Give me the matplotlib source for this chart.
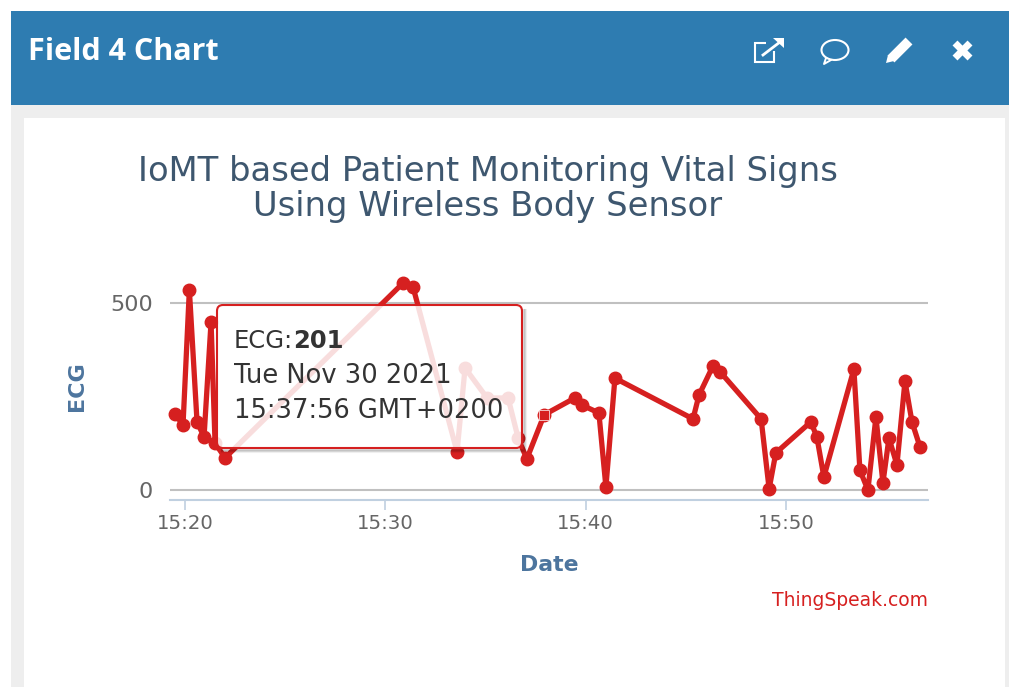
"""
ThingSpeak Field 4 chart widget with ECG readings
"""
from matplotlib import pyplot as plt
from matplotlib import dates as mdates
from matplotlib.patches import Rectangle, FancyBboxPatch, Ellipse, Polygon
import pandas as pd

DAY = '2021-11-30 '

times = ['15:19:30', '15:19:54', '15:20:13', '15:20:36', '15:20:57', '15:21:18',
         '15:21:30', '15:22:00', '15:30:53', '15:31:23', '15:33:35', '15:33:59',
         '15:35:05', '15:36:08', '15:36:38', '15:37:04', '15:37:56', '15:39:28',
         '15:39:49', '15:40:40', '15:41:01', '15:41:28', '15:45:22', '15:45:40',
         '15:46:22', '15:46:43', '15:48:46', '15:49:10', '15:49:30', '15:51:15',
         '15:51:33', '15:51:54', '15:53:24', '15:53:42', '15:54:06', '15:54:30',
         '15:54:51', '15:55:09', '15:55:33', '15:55:57', '15:56:18', '15:56:42']
ecg = [203, 174, 535, 182, 142, 449, 125, 86, 553, 543, 102, 326, 246, 246,
       139, 83, 201, 246, 227, 206, 8, 299, 190, 254, 332, 316, 190, 3, 99,
       182, 142, 35, 323, 53, 0, 195, 19, 139, 67, 291, 182, 115]
x_ticks = ['15:20', '15:30', '15:40', '15:50']
y_ticks = [0, 500]
hover_time = '15:37:56'
hover_value = 201

W, H = 1009, 687
RED = '#d62020'
AXIS_BLUE = '#c0d0e0'
LABEL_BLUE = '#4d759e'
TITLE_BLUE = '#3e576f'


def to_num(labels):
    """
    Convert clock strings to matplotlib date numbers
    """
    return mdates.date2num(pd.to_datetime([DAY + t for t in labels]))


def pixel_axes(fig, zorder):
    """
    Full figure axes that use reference pixels as coordinates
    """
    ax = fig.add_axes([0, 0, 1, 1], zorder=zorder)
    ax.set_xlim(0, W)
    ax.set_ylim(H, 0)
    ax.axis('off')
    ax.patch.set_alpha(0)
    return ax


def draw_panel(ax):
    """
    Grey card, blue header bar and the icons on it
    """
    ax.add_patch(Rectangle((11, 11), W - 11, H - 11, fc='#eeeeee', ec='none'))
    ax.add_patch(Rectangle((11, 11), W - 11, 94, fc='#2e7cb1', ec='none'))
    ax.add_patch(Rectangle((24, 118), 981, H - 118, fc='white', ec='none'))
    ax.text(28, 52, 'Field 4 Chart', color='white', fontsize=22,
            fontweight='bold', family='Open Sans', va='center')

    # external link icon
    ax.add_patch(Rectangle((755, 43), 19, 19, fc='none', ec='white', lw=1.5))
    ax.add_patch(Rectangle((766, 37), 20, 14, fc='#2e7cb1', ec='none'))
    ax.plot([763, 780], [55, 42], color='white', lw=2)
    ax.add_patch(Polygon([[773, 38], [784, 38], [784, 48]], fc='white', ec='none'))
    # comment icon
    ax.add_patch(Ellipse((835, 50), 27, 20, fc='none', ec='white', lw=1.5))
    ax.plot([826, 824, 831], [58, 64, 60], color='white', lw=1.4)
    # pencil and close icons
    ax.plot([891, 909], [59, 41], color='white', lw=7, solid_capstyle='butt')
    ax.add_patch(Polygon([[886, 63], [888, 55], [894, 61]], fc='white', ec='none'))
    ax.plot([955, 970], [43, 58], color='white', lw=5, solid_capstyle='butt')
    ax.plot([955, 970], [58, 43], color='white', lw=5, solid_capstyle='butt')


def draw_tooltip(ax):
    """
    Hover tooltip that lies over the series
    """
    # shadow only along the right and bottom edge, the box itself is see through
    for off, alpha in [(4, 0.06), (3, 0.1), (2, 0.14)]:
        ax.plot([222, 522 + off, 522 + off], [448 + off, 448 + off, 310],
                color='black', alpha=alpha, lw=1.5)
    ax.add_patch(FancyBboxPatch((217, 305), 305, 143,
                                boxstyle='round,pad=0,rounding_size=6',
                                fc=(1, 1, 1, 0.85), ec=RED, lw=1.5))
    ecg_label = ax.text(234, 341, 'ECG:', color='#333333', fontsize=17.5, va='center')
    ax.annotate(str(hover_value), xy=(1, 0.5), xycoords=ecg_label, va='center',
                color='#333333', fontsize=17.5, fontweight='bold')
    ax.text(234, 376, 'Tue Nov 30 2021', color='#333333', fontsize=18.5, va='center')
    ax.text(234, 411, '15:37:56 GMT+0200', color='#333333', fontsize=18.5, va='center')


def draw_chart(fig):
    """
    The Field 4 series with its axes
    """
    ax = fig.add_axes([170 / W, 1 - 500 / H, (928 - 170) / W, 230 / H], zorder=2)
    ax.patch.set_alpha(0)
    ax.plot(to_num(times), ecg, color=RED, lw=3.8, marker='o', ms=9,
            clip_on=False, solid_joinstyle='round')
    ax.plot(to_num([hover_time]), [hover_value], color=RED, marker='s', ms=7.5,
            mec='white', mew=0.5, clip_on=False)

    ax.set_xlim(to_num(['15:19:15'])[0], to_num(['15:57:06'])[0])
    ax.set_ylim(-26.7, 588)
    ax.set_xticks(to_num(x_ticks))
    ax.set_xticklabels(x_ticks)
    ax.set_yticks(y_ticks)
    ax.grid(axis='y', color='#c0c0c0', lw=1.5)
    ax.set_axisbelow(True)
    for side in ['top', 'right', 'left']:
        ax.spines[side].set_visible(False)
    ax.spines['bottom'].set_color(AXIS_BLUE)
    ax.spines['bottom'].set_linewidth(1.5)
    ax.tick_params(axis='x', color=AXIS_BLUE, length=7, width=1.2,
                   labelcolor='#666666', labelsize=14.2, pad=3)
    ax.tick_params(axis='y', length=0, labelcolor='#666666', labelsize=16, pad=12.5)


fig = plt.figure(figsize=(W / 100, H / 100), dpi=100)
back = pixel_axes(fig, 0)
draw_panel(back)
draw_chart(fig)
front = pixel_axes(fig, 3)
draw_tooltip(front)

back.text(488, 189, 'IoMT based Patient Monitoring Vital Signs\nUsing Wireless Body Sensor',
          color=TITLE_BLUE, fontsize=24.3, ha='center', va='center', linespacing=1.08)
back.text(77, 386, 'ECG', color=LABEL_BLUE, fontsize=16, fontweight='bold',
          rotation=90, ha='center', va='center')
back.text(549, 565, 'Date', color=LABEL_BLUE, fontsize=15.8, fontweight='bold',
          ha='center', va='center')
back.text(928, 601, 'ThingSpeak.com', color=RED, fontsize=13.5, ha='right', va='center')

fig.savefig('out.png', dpi=100)
